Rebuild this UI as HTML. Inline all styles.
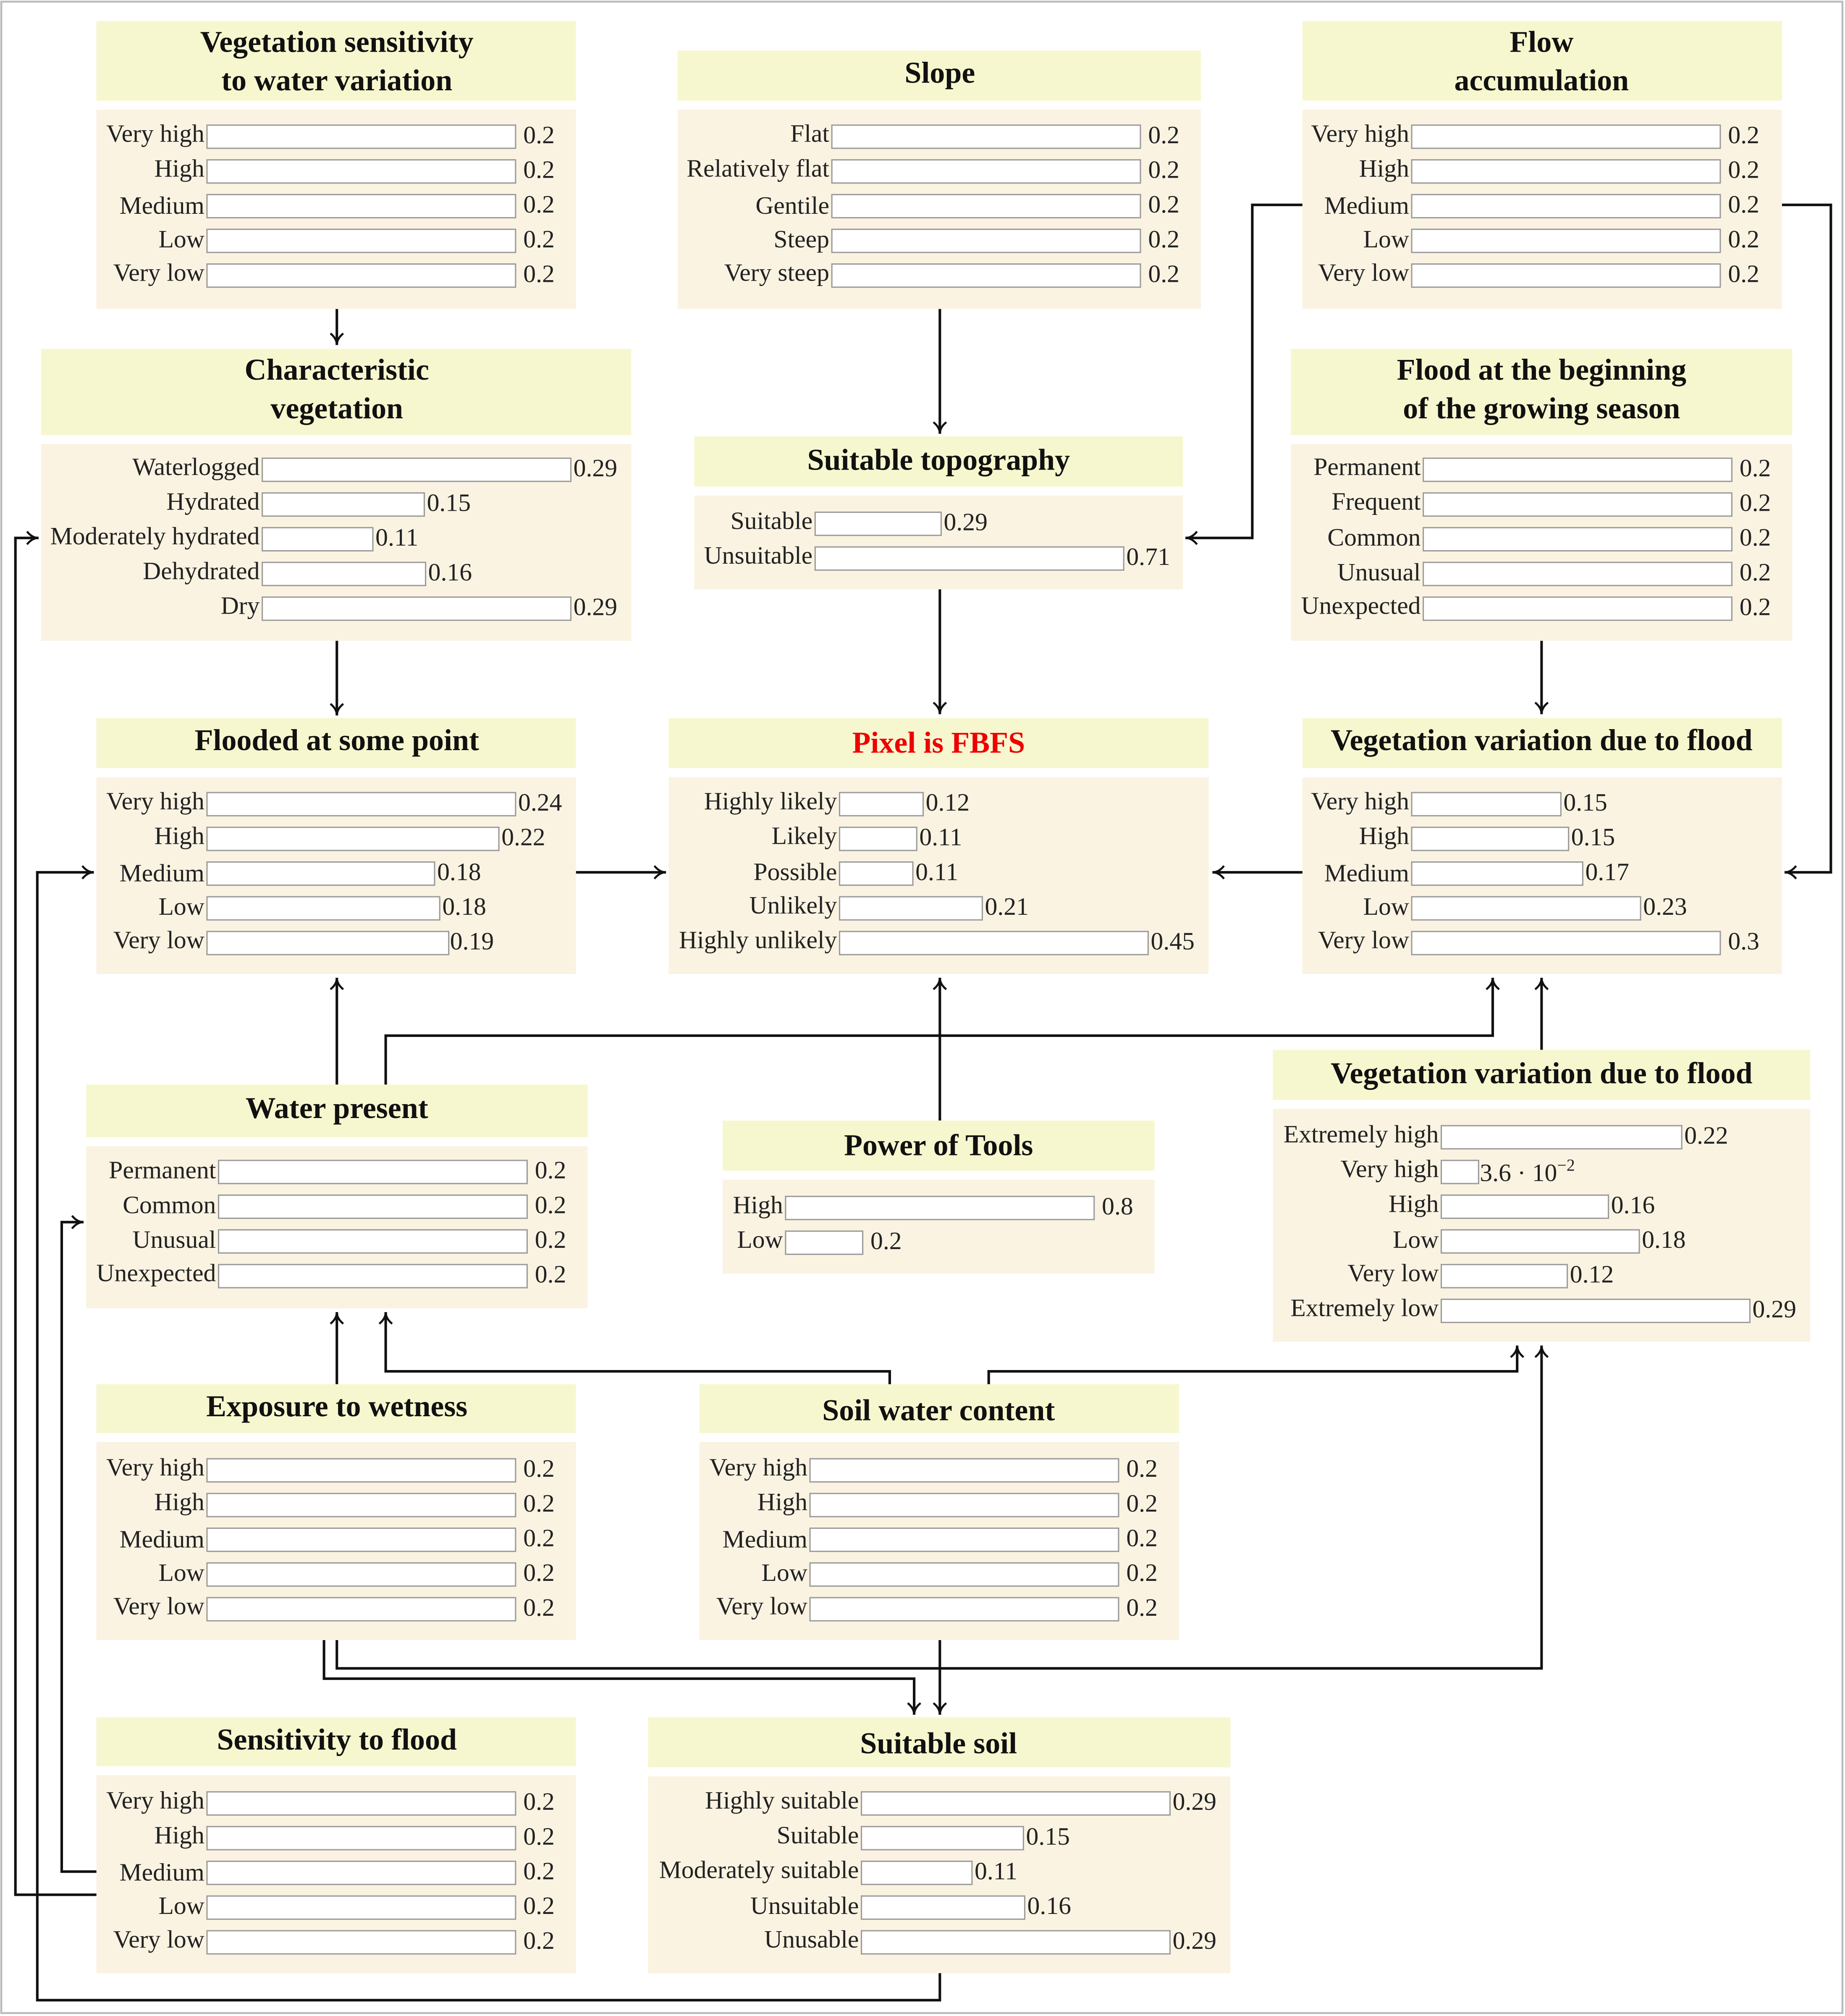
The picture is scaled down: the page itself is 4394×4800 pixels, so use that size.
<!DOCTYPE html>
<html><head><meta charset="utf-8"><style>
html,body{margin:0;padding:0;background:#fff}
svg{display:block}
text{font-family:"Liberation Serif",serif;font-size:19.5px;fill:#222}
.t{font-weight:bold;font-size:23.5px;text-anchor:middle;fill:#111}
.l{text-anchor:end}
.tb{fill:#f7f7cf}
.bd{fill:#faf3e2}
.bar{fill:#fff;stroke:#9a9a9a;stroke-width:1}
.e{fill:none;stroke:#111;stroke-width:2}
</style></head><body>
<svg width="4394" height="4800" viewBox="0 0 1435 1567" xmlns="http://www.w3.org/2000/svg">
<defs><marker id="a" markerWidth="12" markerHeight="12" refX="10" refY="6" orient="auto" markerUnits="userSpaceOnUse"><path d="M1,1 Q5,6 10,6 Q5,6 1,11" fill="none" stroke="#111" stroke-width="1.6"/></marker></defs>
<rect x="1" y="1" width="1432" height="1564" fill="#fff" stroke="#bbb" stroke-width="1.5"/>

<!-- N1 -->
<rect class="tb" x="75" y="16" width="373" height="62"/><rect class="bd" x="75" y="85" width="373" height="155"/>
<text class="t" x="262" y="40">Vegetation sensitivity</text><text class="t" x="262" y="70">to water variation</text>
<text class="l" x="159" y="110">Very high</text><rect class="bar" x="161" y="97" width="240" height="18"/><text x="407" y="111">0.2</text>
<text class="l" x="159" y="137">High</text><rect class="bar" x="161" y="124" width="240" height="18"/><text x="407" y="138">0.2</text>
<text class="l" x="159" y="166">Medium</text><rect class="bar" x="161" y="151" width="240" height="18"/><text x="407" y="165">0.2</text>
<text class="l" x="159" y="192">Low</text><rect class="bar" x="161" y="178" width="240" height="18"/><text x="407" y="192">0.2</text>
<text class="l" x="159" y="218">Very low</text><rect class="bar" x="161" y="205" width="240" height="18"/><text x="407" y="219">0.2</text>

<!-- N2 -->
<rect class="tb" x="527" y="39" width="407" height="39"/><rect class="bd" x="527" y="85" width="407" height="155"/>
<text class="t" x="731" y="64">Slope</text>
<text class="l" x="645" y="110">Flat</text><rect class="bar" x="647" y="97" width="240" height="18"/><text x="893" y="111">0.2</text>
<text class="l" x="645" y="137">Relatively flat</text><rect class="bar" x="647" y="124" width="240" height="18"/><text x="893" y="138">0.2</text>
<text class="l" x="645" y="166">Gentile</text><rect class="bar" x="647" y="151" width="240" height="18"/><text x="893" y="165">0.2</text>
<text class="l" x="645" y="192">Steep</text><rect class="bar" x="647" y="178" width="240" height="18"/><text x="893" y="192">0.2</text>
<text class="l" x="645" y="218">Very steep</text><rect class="bar" x="647" y="205" width="240" height="18"/><text x="893" y="219">0.2</text>

<!-- N3 -->
<rect class="tb" x="1013" y="16" width="373" height="62"/><rect class="bd" x="1013" y="85" width="373" height="155"/>
<text class="t" x="1199" y="40">Flow</text><text class="t" x="1199" y="70">accumulation</text>
<text class="l" x="1096" y="110">Very high</text><rect class="bar" x="1098" y="97" width="240" height="18"/><text x="1344" y="111">0.2</text>
<text class="l" x="1096" y="137">High</text><rect class="bar" x="1098" y="124" width="240" height="18"/><text x="1344" y="138">0.2</text>
<text class="l" x="1096" y="166">Medium</text><rect class="bar" x="1098" y="151" width="240" height="18"/><text x="1344" y="165">0.2</text>
<text class="l" x="1096" y="192">Low</text><rect class="bar" x="1098" y="178" width="240" height="18"/><text x="1344" y="192">0.2</text>
<text class="l" x="1096" y="218">Very low</text><rect class="bar" x="1098" y="205" width="240" height="18"/><text x="1344" y="219">0.2</text>

<!-- N4 -->
<rect class="tb" x="32" y="271" width="459" height="67"/><rect class="bd" x="32" y="345" width="459" height="153"/>
<text class="t" x="262" y="295">Characteristic</text><text class="t" x="262" y="325">vegetation</text>
<text class="l" x="202" y="369">Waterlogged</text><rect class="bar" x="204" y="356" width="240" height="18"/><text x="446" y="370">0.29</text>
<text class="l" x="202" y="396">Hydrated</text><rect class="bar" x="204" y="383" width="126" height="18"/><text x="332" y="397">0.15</text>
<text class="l" x="202" y="423">Moderately hydrated</text><rect class="bar" x="204" y="410" width="86" height="18"/><text x="292" y="424">0.11</text>
<text class="l" x="202" y="450">Dehydrated</text><rect class="bar" x="204" y="437" width="127" height="18"/><text x="333" y="451">0.16</text>
<text class="l" x="202" y="477">Dry</text><rect class="bar" x="204" y="464" width="240" height="18"/><text x="446" y="478">0.29</text>

<!-- N5 -->
<rect class="tb" x="540" y="339" width="380" height="39"/><rect class="bd" x="540" y="385" width="380" height="73"/>
<text class="t" x="730" y="365">Suitable topography</text>
<text class="l" x="632" y="411">Suitable</text><rect class="bar" x="634" y="398" width="98" height="18"/><text x="734" y="412">0.29</text>
<text class="l" x="632" y="438">Unsuitable</text><rect class="bar" x="634" y="425" width="240" height="18"/><text x="876" y="439">0.71</text>

<!-- N6 -->
<rect class="tb" x="1004" y="271" width="390" height="67"/><rect class="bd" x="1004" y="345" width="390" height="153"/>
<text class="t" x="1199" y="295">Flood at the beginning</text><text class="t" x="1199" y="325">of the growing season</text>
<text class="l" x="1105" y="369">Permanent</text><rect class="bar" x="1107" y="356" width="240" height="18"/><text x="1353" y="370">0.2</text>
<text class="l" x="1105" y="396">Frequent</text><rect class="bar" x="1107" y="383" width="240" height="18"/><text x="1353" y="397">0.2</text>
<text class="l" x="1105" y="424">Common</text><rect class="bar" x="1107" y="410" width="240" height="18"/><text x="1353" y="424">0.2</text>
<text class="l" x="1105" y="451">Unusual</text><rect class="bar" x="1107" y="437" width="240" height="18"/><text x="1353" y="451">0.2</text>
<text class="l" x="1105" y="477">Unexpected</text><rect class="bar" x="1107" y="464" width="240" height="18"/><text x="1353" y="478">0.2</text>

<!-- N7 -->
<rect class="tb" x="75" y="558" width="373" height="39"/><rect class="bd" x="75" y="604" width="373" height="153"/>
<text class="t" x="262" y="583">Flooded at some point</text>
<text class="l" x="159" y="629">Very high</text><rect class="bar" x="161" y="616" width="240" height="18"/><text x="403" y="630">0.24</text>
<text class="l" x="159" y="656">High</text><rect class="bar" x="161" y="643" width="227" height="18"/><text x="390" y="657">0.22</text>
<text class="l" x="159" y="685">Medium</text><rect class="bar" x="161" y="670" width="177" height="18"/><text x="340" y="684">0.18</text>
<text class="l" x="159" y="711">Low</text><rect class="bar" x="161" y="697" width="181" height="18"/><text x="344" y="711">0.18</text>
<text class="l" x="159" y="737">Very low</text><rect class="bar" x="161" y="724" width="188" height="18"/><text x="350" y="738">0.19</text>

<!-- N8 -->
<rect class="tb" x="520" y="558" width="420" height="39"/><rect class="bd" x="520" y="604" width="420" height="153"/>
<text class="t" x="730" y="585" style="fill:#ee0000">Pixel is FBFS</text>
<text class="l" x="651" y="629">Highly likely</text><rect class="bar" x="653" y="616" width="65" height="18"/><text x="720" y="630">0.12</text>
<text class="l" x="651" y="656">Likely</text><rect class="bar" x="653" y="643" width="60" height="18"/><text x="715" y="657">0.11</text>
<text class="l" x="651" y="684">Possible</text><rect class="bar" x="653" y="670" width="57" height="18"/><text x="712" y="684">0.11</text>
<text class="l" x="651" y="710">Unlikely</text><rect class="bar" x="653" y="697" width="111" height="18"/><text x="766" y="711">0.21</text>
<text class="l" x="651" y="737">Highly unlikely</text><rect class="bar" x="653" y="724" width="240" height="18"/><text x="895" y="738">0.45</text>

<!-- N9 -->
<rect class="tb" x="1013" y="558" width="373" height="39"/><rect class="bd" x="1013" y="604" width="373" height="153"/>
<text class="t" x="1199" y="583">Vegetation variation due to flood</text>
<text class="l" x="1096" y="629">Very high</text><rect class="bar" x="1098" y="616" width="116" height="18"/><text x="1216" y="630">0.15</text>
<text class="l" x="1096" y="656">High</text><rect class="bar" x="1098" y="643" width="122" height="18"/><text x="1222" y="657">0.15</text>
<text class="l" x="1096" y="685">Medium</text><rect class="bar" x="1098" y="670" width="133" height="18"/><text x="1233" y="684">0.17</text>
<text class="l" x="1096" y="711">Low</text><rect class="bar" x="1098" y="697" width="178" height="18"/><text x="1278" y="711">0.23</text>
<text class="l" x="1096" y="737">Very low</text><rect class="bar" x="1098" y="724" width="240" height="18"/><text x="1344" y="738">0.3</text>

<!-- N10 -->
<rect class="tb" x="67" y="843" width="390" height="41"/><rect class="bd" x="67" y="891" width="390" height="126"/>
<text class="t" x="262" y="869">Water present</text>
<text class="l" x="168" y="916">Permanent</text><rect class="bar" x="170" y="902" width="240" height="18"/><text x="416" y="916">0.2</text>
<text class="l" x="168" y="943">Common</text><rect class="bar" x="170" y="929" width="240" height="18"/><text x="416" y="943">0.2</text>
<text class="l" x="168" y="970">Unusual</text><rect class="bar" x="170" y="956" width="240" height="18"/><text x="416" y="970">0.2</text>
<text class="l" x="168" y="996">Unexpected</text><rect class="bar" x="170" y="983" width="240" height="18"/><text x="416" y="997">0.2</text>

<!-- N11 -->
<rect class="tb" x="562" y="871" width="336" height="39"/><rect class="bd" x="562" y="917" width="336" height="73"/>
<text class="t" x="730" y="898">Power of Tools</text>
<text class="l" x="609" y="943">High</text><rect class="bar" x="611" y="930" width="240" height="18"/><text x="857" y="944">0.8</text>
<text class="l" x="609" y="970">Low</text><rect class="bar" x="611" y="957" width="60" height="18"/><text x="677" y="971">0.2</text>

<!-- N12 -->
<rect class="tb" x="990" y="816" width="418" height="39"/><rect class="bd" x="990" y="862" width="418" height="181"/>
<text class="t" x="1199" y="842">Vegetation variation due to flood</text>
<text class="l" x="1119" y="888">Extremely high</text><rect class="bar" x="1121" y="875" width="187" height="18"/><text x="1310" y="889">0.22</text>
<text class="l" x="1119" y="915">Very high</text><rect class="bar" x="1121" y="902" width="29" height="18"/><text x="1151" y="918">3.6 · 10<tspan dy="-8" style="font-size:13px">−2</tspan></text>
<text class="l" x="1119" y="942">High</text><rect class="bar" x="1121" y="929" width="130" height="18"/><text x="1253" y="943">0.16</text>
<text class="l" x="1119" y="970">Low</text><rect class="bar" x="1121" y="956" width="154" height="18"/><text x="1277" y="970">0.18</text>
<text class="l" x="1119" y="996">Very low</text><rect class="bar" x="1121" y="983" width="98" height="18"/><text x="1221" y="997">0.12</text>
<text class="l" x="1119" y="1023">Extremely low</text><rect class="bar" x="1121" y="1010" width="240" height="18"/><text x="1363" y="1024">0.29</text>

<!-- N13 -->
<rect class="tb" x="75" y="1076" width="373" height="38"/><rect class="bd" x="75" y="1121" width="373" height="154"/>
<text class="t" x="262" y="1101">Exposure to wetness</text>
<text class="l" x="159" y="1147">Very high</text><rect class="bar" x="161" y="1134" width="240" height="18"/><text x="407" y="1148">0.2</text>
<text class="l" x="159" y="1174">High</text><rect class="bar" x="161" y="1161" width="240" height="18"/><text x="407" y="1175">0.2</text>
<text class="l" x="159" y="1203">Medium</text><rect class="bar" x="161" y="1188" width="240" height="18"/><text x="407" y="1202">0.2</text>
<text class="l" x="159" y="1229">Low</text><rect class="bar" x="161" y="1215" width="240" height="18"/><text x="407" y="1229">0.2</text>
<text class="l" x="159" y="1255">Very low</text><rect class="bar" x="161" y="1242" width="240" height="18"/><text x="407" y="1256">0.2</text>

<!-- N14 -->
<rect class="tb" x="544" y="1076" width="373" height="38"/><rect class="bd" x="544" y="1121" width="373" height="154"/>
<text class="t" x="730" y="1104">Soil water content</text>
<text class="l" x="628" y="1147">Very high</text><rect class="bar" x="630" y="1134" width="240" height="18"/><text x="876" y="1148">0.2</text>
<text class="l" x="628" y="1174">High</text><rect class="bar" x="630" y="1161" width="240" height="18"/><text x="876" y="1175">0.2</text>
<text class="l" x="628" y="1203">Medium</text><rect class="bar" x="630" y="1188" width="240" height="18"/><text x="876" y="1202">0.2</text>
<text class="l" x="628" y="1229">Low</text><rect class="bar" x="630" y="1215" width="240" height="18"/><text x="876" y="1229">0.2</text>
<text class="l" x="628" y="1255">Very low</text><rect class="bar" x="630" y="1242" width="240" height="18"/><text x="876" y="1256">0.2</text>

<!-- N15 -->
<rect class="tb" x="75" y="1335" width="373" height="38"/><rect class="bd" x="75" y="1380" width="373" height="154"/>
<text class="t" x="262" y="1360">Sensitivity to flood</text>
<text class="l" x="159" y="1406">Very high</text><rect class="bar" x="161" y="1393" width="240" height="18"/><text x="407" y="1407">0.2</text>
<text class="l" x="159" y="1433">High</text><rect class="bar" x="161" y="1420" width="240" height="18"/><text x="407" y="1434">0.2</text>
<text class="l" x="159" y="1462">Medium</text><rect class="bar" x="161" y="1447" width="240" height="18"/><text x="407" y="1461">0.2</text>
<text class="l" x="159" y="1488">Low</text><rect class="bar" x="161" y="1474" width="240" height="18"/><text x="407" y="1488">0.2</text>
<text class="l" x="159" y="1514">Very low</text><rect class="bar" x="161" y="1501" width="240" height="18"/><text x="407" y="1515">0.2</text>

<!-- N16 -->
<rect class="tb" x="504" y="1335" width="453" height="39"/><rect class="bd" x="504" y="1381" width="453" height="153"/>
<text class="t" x="730" y="1363">Suitable soil</text>
<text class="l" x="668" y="1406">Highly suitable</text><rect class="bar" x="670" y="1393" width="240" height="18"/><text x="912" y="1407">0.29</text>
<text class="l" x="668" y="1433">Suitable</text><rect class="bar" x="670" y="1420" width="126" height="18"/><text x="798" y="1434">0.15</text>
<text class="l" x="668" y="1460">Moderately suitable</text><rect class="bar" x="670" y="1447" width="86" height="18"/><text x="758" y="1461">0.11</text>
<text class="l" x="668" y="1488">Unsuitable</text><rect class="bar" x="670" y="1474" width="127" height="18"/><text x="799" y="1488">0.16</text>
<text class="l" x="668" y="1514">Unusable</text><rect class="bar" x="670" y="1501" width="240" height="18"/><text x="912" y="1515">0.29</text>

<!-- edges -->
<g class="e" marker-end="url(#a)">
<path class="e" d="M262,240 V268"/>
<path class="e" d="M731,240 V337"/>
<path class="e" d="M1013,159 H974 V418 H922"/>
<path class="e" d="M1386,159 H1424 V678 H1388"/>
<path class="e" d="M262,498 V556"/>
<path class="e" d="M731,458 V555"/>
<path class="e" d="M1199,498 V555"/>
<path class="e" d="M448,678 H518"/>
<path class="e" d="M1013,678 H943"/>
<path class="e" d="M262,843 V760"/>
<path class="e" d="M300,843 V805 H1161 V760"/>
<path class="e" d="M1199,816 V760"/>
<path class="e" d="M731,871 V760"/>
<path class="e" d="M262,1076 V1020"/>
<path class="e" d="M692,1076 V1066 H300 V1020"/>
<path class="e" d="M769,1076 V1066 H1180 V1046"/>
<path class="e" d="M252,1275 V1305 H711 V1333"/>
<path class="e" d="M262,1275 V1297 H1199 V1046"/>
<path class="e" d="M731,1275 V1333"/>
<path class="e" d="M75,1455 H48 V950 H65"/>
<path class="e" d="M75,1473 H12 V418 H30"/>
<path class="e" d="M731,1534 V1555 H29 V678 H73"/>
</g>
</svg>
</body></html>
